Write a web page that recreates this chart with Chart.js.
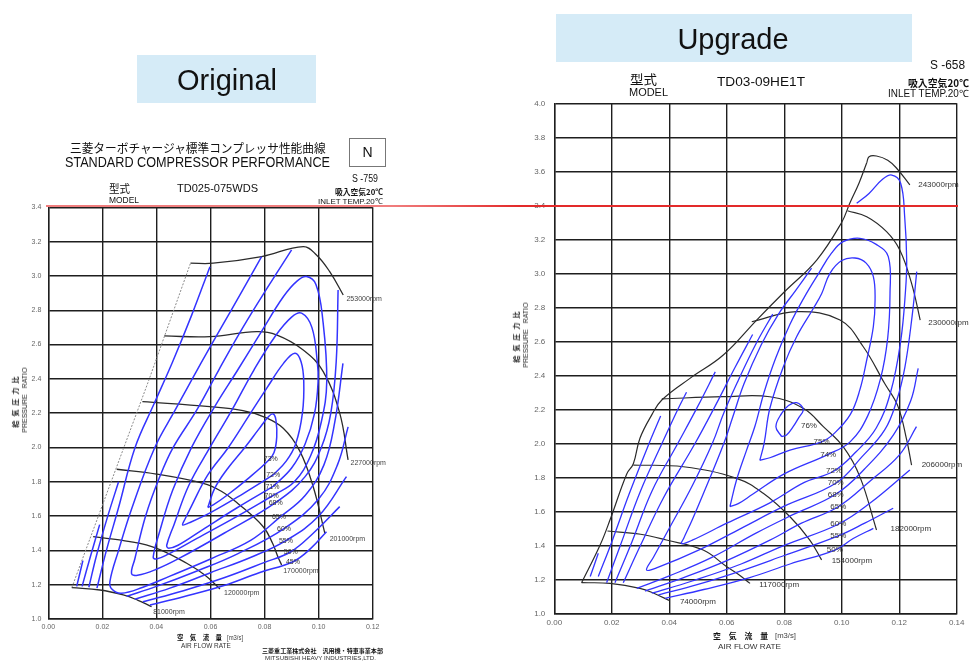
<!DOCTYPE html>
<html><head><meta charset="utf-8">
<script src="https://cdn.jsdelivr.net/npm/chart.js@4.4.1/dist/chart.umd.min.js"></script>
<style>
html,body{margin:0;padding:0;background:#fff;}
body{width:977px;height:666px;position:relative;overflow:hidden;font-family:"Liberation Sans",Arial,sans-serif;color:#111;}
.t{position:absolute;white-space:nowrap;line-height:1;transform-origin:0 50%;}
.box{position:absolute;background:#d5ebf7;}
#cL{position:absolute;left:0;top:0;}
#cR{position:absolute;left:490px;top:0;}
#red{position:absolute;left:46px;top:205px;width:912px;height:2px;background:linear-gradient(to right,#f07d7d 0%,#f07d7d 38%,#e32a2a 52%,#e32a2a 100%);}
.rot{position:absolute;transform:translate(-50%,-50%) rotate(-90deg);text-align:center;white-space:nowrap;color:#222;}
</style></head><body>
<div class="box" style="left:137px;top:55px;width:179px;height:48px;"></div>
<div class="box" style="left:556px;top:14px;width:356px;height:48px;"></div>
<div style="position:absolute;left:349px;top:138px;width:35px;height:27px;border:1px solid #777;"></div>
<canvas id="cL" width="420" height="666"></canvas>
<canvas id="cR" width="487" height="666"></canvas>
<div class="rot" style="left:20px;top:400px;">
  <div style="font:bold 7px 'Noto Sans CJK JP',sans-serif;letter-spacing:4px;line-height:9px;">給気圧力比</div>
  <div style="font:7px 'Liberation Sans',Arial,sans-serif;line-height:9px;">PRESSURE&nbsp;&nbsp;&nbsp;RATIO</div>
</div>
<div class="rot" style="left:521px;top:335px;">
  <div style="font:bold 7px 'Noto Sans CJK JP',sans-serif;letter-spacing:4px;line-height:9px;">給気圧力比</div>
  <div style="font:7px 'Liberation Sans',Arial,sans-serif;line-height:9px;">PRESSURE&nbsp;&nbsp;&nbsp;RATIO</div>
</div>
<div id="red"></div>
<script>
// ================= ORIGINAL (left) : [air flow m3/s, pressure ratio] =================
const origXTicks = [0, 0.02, 0.04, 0.06, 0.08, 0.10, 0.12];
const origXLabels = ['0.00','0.02','0.04','0.06','0.08','0.10','0.12'];
const origYTicks = [1.0,1.2,1.4,1.6,1.8,2.0,2.2,2.4,2.6,2.8,3.0,3.2,3.4];
const origYLabels = ['1.0','1.2','1.4','1.6','1.8','2.0','2.2','2.4','2.6','2.8','3.0','3.2','3.4'];

const origSurge = [[0.0087,1.183],[0.0370,2.384],[0.0526,3.074]];
const orig81k  = [[0.0087,1.183],[0.0191,1.169],[0.0277,1.140],[0.0330,1.110],[0.0382,1.072]];
const orig120k = [[0.0166,1.480],[0.0302,1.451],[0.0401,1.412],[0.0512,1.325],[0.0580,1.255],[0.0635,1.175]];
const orig170k = [[0.0253,1.873],[0.0400,1.845],[0.0573,1.791],[0.0640,1.745],[0.0700,1.675],[0.0795,1.538],[0.0830,1.440],[0.0850,1.360],[0.0863,1.315]];
const orig201k = [[0.0348,2.267],[0.0598,2.238],[0.0720,2.215],[0.0795,2.180],[0.0869,2.112],[0.0930,1.980],[0.0980,1.771],[0.1023,1.500]];
const orig227k = [[0.0429,2.650],[0.0598,2.646],[0.0770,2.675],[0.0844,2.656],[0.0943,2.568],[0.1017,2.442],[0.1078,2.200],[0.1109,1.927]];
const orig253k = [[0.0526,3.074],[0.0610,3.074],[0.0789,3.113],[0.0943,3.171],[0.0992,3.122],[0.1041,3.025],[0.1091,2.889]];

const origEff73 = [[0.0590,1.650],[0.0615,1.760],[0.0660,1.870],[0.0727,2.000],[0.0780,2.110],[0.0815,2.180],[0.0832,2.195],[0.0842,2.160],[0.0845,2.060],[0.0835,1.970],[0.0815,1.925],[0.0740,1.820],[0.0660,1.720],[0.0610,1.665],[0.0590,1.650]];
const origEff72 = [[0.0832,1.840],[0.0720,1.730],[0.0600,1.620],[0.0520,1.560],[0.0497,1.548],[0.0505,1.580],[0.0530,1.660],[0.0590,1.840],[0.0666,2.000],[0.0740,2.180],[0.0810,2.350],[0.0870,2.490],[0.0912,2.549],[0.0935,2.500],[0.0945,2.384],[0.0940,2.200],[0.0915,2.020],[0.0880,1.920],[0.0832,1.840]];
const origEff71 = [[0.0832,1.773],[0.0700,1.650],[0.0570,1.520],[0.0480,1.430],[0.0445,1.413],[0.0438,1.430],[0.0465,1.550],[0.0520,1.780],[0.0598,2.000],[0.0680,2.220],[0.0760,2.450],[0.0840,2.650],[0.0900,2.760],[0.0937,2.783],[0.0975,2.700],[0.0995,2.500],[0.0998,2.384],[0.0985,2.200],[0.0950,2.020],[0.0900,1.880],[0.0832,1.773]];
const origEff70 = [[0.0832,1.720],[0.0700,1.600],[0.0550,1.470],[0.0440,1.375],[0.0400,1.350],[0.0388,1.360],[0.0410,1.500],[0.0460,1.750],[0.0530,2.000],[0.0620,2.250],[0.0700,2.450],[0.0790,2.680],[0.0870,2.880],[0.0920,2.970],[0.0955,2.996],[0.0990,2.950],[0.1015,2.750],[0.1030,2.384],[0.1010,2.150],[0.0970,1.950],[0.0910,1.800],[0.0832,1.720]];
const origEff68 = [[0.0900,3.152],[0.0810,2.930],[0.0720,2.700],[0.0630,2.450],[0.0550,2.220],[0.0462,2.000],[0.0410,1.820],[0.0360,1.600],[0.0320,1.350],[0.0308,1.265],[0.0330,1.255],[0.0400,1.290],[0.0480,1.350],[0.0650,1.500],[0.0842,1.680],[0.0950,1.830],[0.1010,2.000],[0.1045,2.200],[0.1065,2.500],[0.1072,2.918]];
const origEff65 = [[0.0789,3.113],[0.0720,2.920],[0.0640,2.700],[0.0550,2.450],[0.0470,2.220],[0.0394,2.000],[0.0310,1.650],[0.0260,1.400],[0.0228,1.220],[0.0235,1.175],[0.0270,1.150],[0.0350,1.185],[0.0450,1.250],[0.0600,1.350],[0.0750,1.460],[0.0857,1.594],[0.0950,1.720],[0.1020,1.900],[0.1060,2.150],[0.1090,2.490]];
const origEff60a = [[0.0180,1.180],[0.0215,1.400],[0.0260,1.650],[0.0321,2.000],[0.0390,2.250],[0.0460,2.500],[0.0530,2.770],[0.0598,3.054]];
const origEff60b = [[0.0290,1.133],[0.0400,1.190],[0.0550,1.280],[0.0700,1.380],[0.0872,1.527],[0.1000,1.700],[0.1070,1.900],[0.1109,2.120]];
const origEff55a = [[0.0150,1.185],[0.0180,1.380],[0.0220,1.600],[0.0260,1.800]];
const origEff55b = [[0.0320,1.115],[0.0450,1.180],[0.0600,1.270],[0.0750,1.360],[0.0879,1.457],[0.1000,1.600],[0.1103,1.830]];
const origEff50a = [[0.0125,1.190],[0.0155,1.360],[0.0190,1.550]];
const origEff50b = [[0.0350,1.100],[0.0500,1.165],[0.0650,1.240],[0.0800,1.330],[0.0897,1.392],[0.0980,1.500],[0.1078,1.655]];
const origEff45a = [[0.0105,1.190],[0.0128,1.340]];
const origEff45b = [[0.0376,1.082],[0.0500,1.130],[0.0650,1.195],[0.0780,1.270],[0.0905,1.334],[0.0970,1.410],[0.1029,1.509]];

const origSpeedNames = ['253000rpm','227000rpm','201000rpm','170000rpm','120000rpm','81000rpm'];
const origSpeedAt = [[0.1103,2.866],[0.1118,1.908],[0.1041,1.465],[0.0869,1.282],[0.0650,1.150],[0.0388,1.043]];
const origEffNames = ['73%','72%','71%','70%','68%','65%','60%','55%','50%','45%'];
const origEffAt = [[0.0823,1.930],[0.0832,1.840],[0.0829,1.771],[0.0826,1.717],[0.0841,1.678],[0.0853,1.597],[0.0872,1.527],[0.0879,1.457],[0.0897,1.392],[0.0905,1.334]];

// ================= UPGRADE (right) =================
const upXTicks = [0, 0.02, 0.04, 0.06, 0.08, 0.10, 0.12, 0.14];
const upXLabels = ['0.00','0.02','0.04','0.06','0.08','0.10','0.12','0.14'];
const upYTicks = [1.0,1.2,1.4,1.6,1.8,2.0,2.2,2.4,2.6,2.8,3.0,3.2,3.4,3.6,3.8,4.0];
const upYLabels = ['1.0','1.2','1.4','1.6','1.8','2.0','2.2','2.4','2.6','2.8','3.0','3.2','3.4','3.6','3.8','4.0'];

const upSurge = [[0.0095,1.180],[0.0159,1.400],[0.0194,1.550],[0.0252,1.820],[0.0275,1.880],[0.0298,2.030],[0.0340,2.170],[0.0374,2.255],[0.0472,2.382],[0.0588,2.519],[0.0704,2.725],[0.0800,2.890],[0.0913,3.078],[0.1000,3.300],[0.1028,3.412],[0.1060,3.530],[0.1087,3.650]];
const up74k  = [[0.0095,1.180],[0.0194,1.176],[0.0298,1.147],[0.0350,1.115],[0.0402,1.074]];
const up117k = [[0.0185,1.484],[0.0300,1.465],[0.0390,1.431],[0.0518,1.372],[0.0600,1.274],[0.0640,1.230],[0.0681,1.176]];
const up154k = [[0.0275,1.872],[0.0449,1.862],[0.0634,1.794],[0.0727,1.706],[0.0820,1.568],[0.0889,1.431],[0.0930,1.314]];
const up182k = [[0.0374,2.261],[0.0588,2.274],[0.0750,2.274],[0.0866,2.206],[0.0936,2.098],[0.1005,1.980],[0.1063,1.804],[0.1121,1.490]];
const up206k = [[0.0687,2.715],[0.0843,2.774],[0.0994,2.725],[0.1075,2.568],[0.1150,2.350],[0.1195,2.220],[0.1226,2.020],[0.1243,1.872]];
const up230k = [[0.1020,3.368],[0.1087,3.333],[0.1156,3.245],[0.1202,3.137],[0.1243,2.941],[0.1273,2.725]];
const up243k = [[0.1087,3.650],[0.1095,3.686],[0.1121,3.690],[0.1160,3.665],[0.1191,3.618],[0.1237,3.520]];

const upEff76 = [[0.0791,2.039],[0.0771,2.098],[0.0791,2.176],[0.0815,2.222],[0.0843,2.239],[0.0866,2.200],[0.0850,2.150],[0.0831,2.098],[0.0808,2.049],[0.0791,2.039]];
const upEff75 = [[0.0715,1.900],[0.0730,2.000],[0.0750,2.206],[0.0797,2.451],[0.0843,2.627],[0.0900,2.790],[0.0930,2.880],[0.0959,3.000],[0.1000,3.075],[0.1046,3.090],[0.1085,3.060],[0.1110,2.980],[0.1116,2.843],[0.1110,2.686],[0.1087,2.490],[0.1063,2.314],[0.1030,2.170],[0.0975,2.060],[0.0930,2.009],[0.0820,1.960],[0.0750,1.915],[0.0715,1.900]];
const upEff74 = [[0.0611,1.627],[0.0634,1.784],[0.0669,1.960],[0.0698,2.100],[0.0730,2.300],[0.0770,2.500],[0.0820,2.700],[0.0870,2.860],[0.0920,3.000],[0.0965,3.120],[0.1005,3.186],[0.1063,3.206],[0.1120,3.170],[0.1162,3.098],[0.1168,2.882],[0.1160,2.620],[0.1135,2.380],[0.1090,2.160],[0.1030,2.010],[0.0953,1.935],[0.0800,1.820],[0.0690,1.700],[0.0640,1.645],[0.0611,1.627]];
const upEff72 = [[0.0895,3.030],[0.0840,2.900],[0.0780,2.760],[0.0720,2.580],[0.0660,2.350],[0.0620,2.150],[0.0590,2.000],[0.0530,1.750],[0.0480,1.550],[0.0450,1.440],[0.0443,1.410],[0.0480,1.430],[0.0600,1.530],[0.0750,1.650],[0.0870,1.770],[0.0973,1.837],[0.1050,1.950],[0.1120,2.090],[0.1170,2.300],[0.1205,2.600],[0.1222,2.900],[0.1226,3.080],[0.1219,3.333],[0.1205,3.530],[0.1174,3.578],[0.1140,3.550],[0.1095,3.470],[0.1052,3.412]];
const upEff70 = [[0.0760,2.760],[0.0700,2.580],[0.0640,2.370],[0.0590,2.180],[0.0550,2.000],[0.0480,1.750],[0.0400,1.500],[0.0345,1.330],[0.0321,1.255],[0.0360,1.270],[0.0500,1.370],[0.0650,1.500],[0.0800,1.630],[0.0979,1.765],[0.1070,1.920],[0.1150,2.080],[0.1191,2.250],[0.1220,2.450],[0.1245,2.750],[0.1261,3.010]];
const upEff68a = [[0.0240,1.180],[0.0300,1.400],[0.0380,1.680],[0.0490,2.000],[0.0560,2.220],[0.0630,2.450],[0.0690,2.640]];
const upEff68b = [[0.0287,1.147],[0.0400,1.220],[0.0550,1.330],[0.0700,1.470],[0.0830,1.580],[0.0979,1.700],[0.1080,1.850],[0.1180,2.050],[0.1240,2.250],[0.1266,2.441]];
const upEff65a = [[0.0211,1.180],[0.0270,1.420],[0.0340,1.720],[0.0430,2.000],[0.0500,2.220],[0.0560,2.420]];
const upEff65b = [[0.0316,1.131],[0.0450,1.210],[0.0600,1.310],[0.0750,1.430],[0.0860,1.530],[0.0988,1.627],[0.1100,1.780],[0.1200,1.930],[0.1260,2.098]];
const upEff60a = [[0.0182,1.180],[0.0230,1.400],[0.0300,1.720],[0.0375,2.000],[0.0430,2.200],[0.0460,2.300]];
const upEff60b = [[0.0339,1.118],[0.0480,1.190],[0.0650,1.290],[0.0800,1.400],[0.0988,1.524],[0.1100,1.650],[0.1237,1.843]];
const upEff55a = [[0.0153,1.216],[0.0200,1.420],[0.0260,1.700],[0.0330,2.000],[0.0370,2.160]];
const upEff55b = [[0.0362,1.108],[0.0500,1.170],[0.0650,1.250],[0.0800,1.340],[0.0988,1.455],[0.1080,1.530],[0.1179,1.618]];
const upEff50a = [[0.0125,1.216],[0.0153,1.353]];
const upEff50b = [[0.0385,1.088],[0.0520,1.140],[0.0680,1.210],[0.0820,1.290],[0.0976,1.372],[0.1040,1.440],[0.1110,1.500]];

const upSpeedNames = ['243000rpm','230000rpm','206000rpm','182000rpm','154000rpm','117000rpm','74000rpm'];
const upSpeedAt = [[0.1266,3.519],[0.1301,2.706],[0.1278,1.872],[0.1170,1.500],[0.0965,1.309],[0.0713,1.166],[0.0437,1.065]];
const upEffNames = ['76%','75%','74%','72%','70%','68%','65%','60%','55%','50%'];
const upEffAt = [[0.0886,2.102],[0.0930,2.009],[0.0953,1.935],[0.0973,1.837],[0.0979,1.765],[0.0979,1.700],[0.0988,1.627],[0.0988,1.524],[0.0988,1.455],[0.0976,1.372]];

// ================= helpers =================
const FONT = '"Liberation Sans", Arial, sans-serif';
const JP = '"Noto Sans CJK JP", "Noto Sans CJK SC", sans-serif';
const BLUE = 'rgb(52,52,255)';
const BLACK = '#2b2b2b';

function line(pts, color, width, tension, dash) {
  return { data: pts.map(p => ({x: p[0], y: p[1]})), showLine: true, borderColor: color,
    borderWidth: width, pointRadius: 0, pointHoverRadius: 0, fill: false,
    tension: tension, borderDash: dash || [] };
}
function labelPlugin(groups) {
  return { id: 'mapLabels', afterDatasetsDraw(chart) {
    const ctx = chart.ctx, xs = chart.scales.x, ys = chart.scales.y;
    ctx.save();
    groups.forEach(g => {
      ctx.font = g.font; ctx.fillStyle = g.color; ctx.textAlign = g.align; ctx.textBaseline = 'middle';
      g.names.forEach((t, i) => ctx.fillText(t, xs.getPixelForValue(g.at[i][0]), ys.getPixelForValue(g.at[i][1])));
    });
    ctx.restore();
  }};
}
function axes(xt, xl, yt, yl, xmax, ymax, yw, xh, fs, xpad, ypad) {
  const grid = { color: '#1e1e1e', lineWidth: 1.4, drawTicks: false };
  return {
    x: { type: 'linear', min: 0, max: xmax, grid: grid, border: { color: '#1e1e1e', width: 1.4 },
      afterBuildTicks: s => { s.ticks = xt.map(v => ({ value: v })); },
      ticks: { callback: (v, i) => xl[i], font: { size: fs, family: FONT }, color: '#666', padding: xpad, maxRotation: 0, autoSkip: false },
      afterFit: s => { s.height = xh; } },
    y: { type: 'linear', min: 1.0, max: ymax, grid: grid, border: { color: '#1e1e1e', width: 1.4 },
      afterBuildTicks: s => { s.ticks = yt.map(v => ({ value: v })); },
      ticks: { callback: (v, i) => yl[i], font: { size: fs, family: FONT }, color: '#666', padding: ypad, autoSkip: false },
      afterFit: s => { s.width = yw; } }
  };
}
const common = { responsive: false, animation: false, devicePixelRatio: 1, events: [],
  plugins: { legend: { display: false }, tooltip: { enabled: false } } };

// ---------- left chart ----------
const origBlue = [origEff73, origEff72, origEff71, origEff70, origEff68, origEff65, origEff60a, origEff60b,
  origEff55a, origEff55b, origEff50a, origEff50b, origEff45a, origEff45b];
const origBlack = [orig81k, orig120k, orig170k, orig201k, orig227k, orig253k];
new Chart(document.getElementById('cL'), {
  type: 'scatter',
  data: { datasets: [line(origSurge, '#8a8a8a', 1, 0, [2, 1.5])]
    .concat(origBlue.map(d => line(d, BLUE, 1.5, 0.4)))
    .concat(origBlack.map(d => line(d, BLACK, 1.3, 0.4))) },
  options: Object.assign({}, common, {
    layout: { padding: { left: 0, top: 207.3, right: 47.3, bottom: 0 } },
    scales: axes(origXTicks, origXLabels, origYTicks, origYLabels, 0.12, 3.4, 48.3, 47, 7, 4, 7)
  }),
  plugins: [labelPlugin([
    { names: origSpeedNames, at: origSpeedAt, font: '7px ' + FONT, color: '#444', align: 'left' },
    { names: origEffNames, at: origEffAt, font: '7px ' + FONT, color: '#333', align: 'center' }
  ])]
});

// ---------- right chart ----------
const upBlue = [upEff76, upEff75, upEff74, upEff72, upEff70, upEff68a, upEff68b, upEff65a, upEff65b,
  upEff60a, upEff60b, upEff55a, upEff55b, upEff50a, upEff50b];
const upBlack = [upSurge, up74k, up117k, up154k, up182k, up206k, up230k, up243k];
new Chart(document.getElementById('cR'), {
  type: 'scatter',
  data: { datasets: upBlue.map(d => line(d, BLUE, 1.3, 0.4))
    .concat(upBlack.map(d => line(d, BLACK, 1.2, 0.4))) },
  options: Object.assign({}, common, {
    layout: { padding: { left: 0, top: 103.3, right: 20.3, bottom: 0 } },
    scales: axes(upXTicks, upXLabels, upYTicks, upYLabels, 0.14, 4.0, 64.3, 52.7, 8, 5, 9)
  }),
  plugins: [labelPlugin([
    { names: upSpeedNames, at: upSpeedAt, font: '8px ' + FONT, color: '#333', align: 'left' },
    { names: upEffNames, at: upEffAt, font: '8px ' + FONT, color: '#333', align: 'center' }
  ])]
});

// ---------- page text ----------
const meas = document.createElement('canvas').getContext('2d');
function txt(s, x, yc, size, o) {
  o = o || {};
  const fam = o.jp ? JP : FONT;
  const d = document.createElement('div');
  d.className = 't';
  d.textContent = s;
  d.style.font = (o.bold ? 'bold ' : '') + size + 'px ' + fam;
  d.style.lineHeight = size + 'px';
  d.style.color = o.color || '#111';
  d.style.left = x + 'px';
  d.style.top = (yc - size / 2) + 'px';
  if (o.w) {
    meas.font = (o.bold ? 'bold ' : '') + size + 'px ' + fam;
    const sx = o.w / meas.measureText(s).width;
    d.style.transform = 'scaleX(' + sx.toFixed(3) + ')';
  }
  document.body.appendChild(d);
}
function ctxt(s, cx, yc, size) {
  meas.font = size + 'px ' + FONT;
  txt(s, cx - meas.measureText(s).width / 2, yc, size);
}
ctxt('Original', 227, 80, 29);
ctxt('Upgrade', 733, 39, 29);
// left header
txt('三菱ターボチャージャ標準コンプレッサ性能曲線', 70, 147.5, 12, { jp: true, w: 257 });
txt('STANDARD COMPRESSOR PERFORMANCE', 65, 161.5, 14, { w: 265 });
txt('N', 362.5, 152, 14);
txt('S -759', 352, 179, 10, { w: 26 });
txt('吸入空気20℃', 335, 191.5, 8, { jp: true, bold: true, w: 48 });
txt('INLET TEMP.20℃', 318, 201.5, 8, { w: 65 });
txt('型式', 109, 188, 11, { jp: true, w: 21 });
txt('MODEL', 109, 200.5, 9, { w: 30 });
txt('TD025-075WDS', 177, 188, 11, { w: 81 });
txt('空　気　流　量', 177, 637.3, 7, { jp: true, bold: true, w: 45 });
txt('[m3/s]', 227, 637.3, 7, { w: 16, color: '#444' });
txt('AIR   FLOW   RATE', 181, 645.5, 7, { w: 57, color: '#333' });
txt('三菱重工業株式会社　汎用機・特車事業本部', 262, 650.5, 6, { jp: true, bold: true, w: 121 });
txt('MITSUBISHI   HEAVY   INDUSTRIES,LTD.', 265, 657.5, 6, { w: 118, color: '#333' });
// right header
txt('型式', 630, 78, 13, { jp: true, w: 27 });
txt('MODEL', 629, 93, 10, { w: 39 });
txt('TD03-09HE1T', 717, 81, 13, { w: 88 });
txt('S -658', 930, 65, 12, { w: 35 });
txt('吸入空気20℃', 908, 82.5, 10, { jp: true, bold: true, w: 61 });
txt('INLET TEMP.20℃', 888, 94, 10, { w: 81 });
txt('空　気　流　量', 713, 636, 8, { jp: true, bold: true, w: 55 });
txt('[m3/s]', 775, 636, 8, { w: 21, color: '#444' });
txt('AIR   FLOW   RATE', 718, 647, 8, { w: 72, color: '#333' });
</script>
</body></html>
